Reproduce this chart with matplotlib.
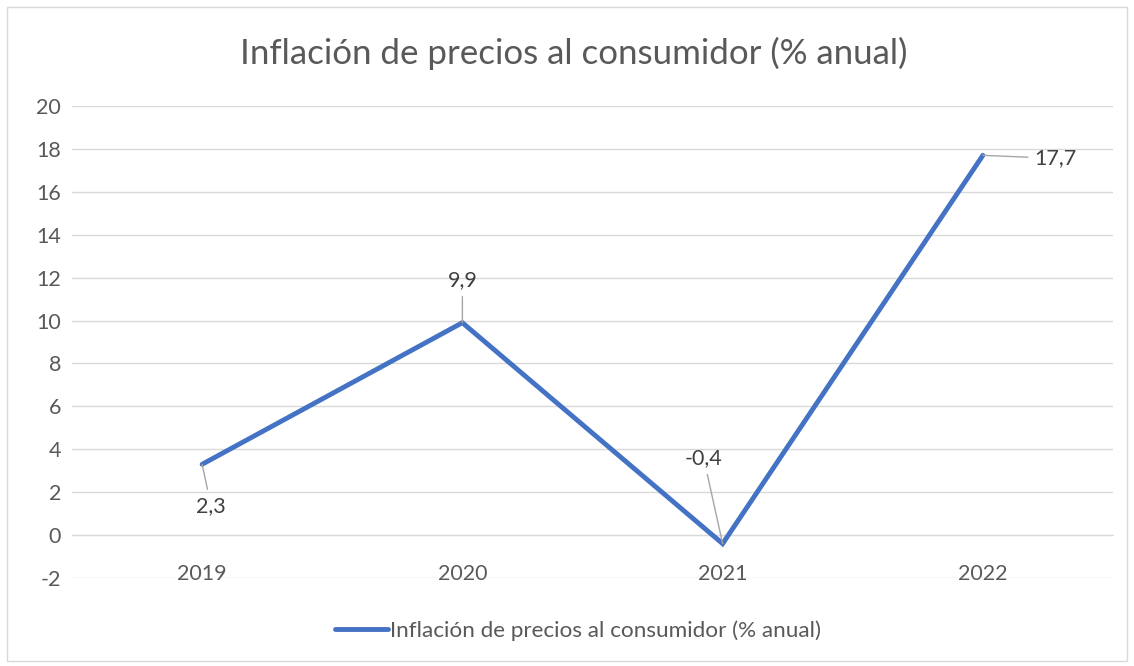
import matplotlib
matplotlib.use("Agg")
import matplotlib.pyplot as plt
from matplotlib.lines import Line2D
from matplotlib.patches import Rectangle

# ── Data ─────────────────────────────────────────────────────────────────────
years = ["2019", "2020", "2021", "2022"]
values = [3.3, 9.9, -0.4, 17.7]          # plotted positions
value_labels = ["2,3", "9,9", "-0,4", "17,7"]  # data labels as shown
series_name = "Inflación de precios al consumidor (% anual)"
title = "Inflación de precios al consumidor (% anual)"
y_ticks = list(range(-2, 21, 2))

# ── Style ────────────────────────────────────────────────────────────────────
W, H = 1134, 666
LINE = "#4472C4"
TEXT = "#595959"
GRID = "#D9D9D9"
LEADER = "#A6A6A6"
plt.rcParams["font.family"] = ["Lato", "DejaVu Sans"]

fig = plt.figure(figsize=(W / 100, H / 100), dpi=100, facecolor="white")

# outer chart border
fig.patches.append(Rectangle((7 / W, 5 / H), 1120 / W, 654 / H,
                             transform=fig.transFigure, fill=False,
                             edgecolor=GRID, lw=1.0))

left, right, top, bottom = 72, 1113, 106, 578
ax = fig.add_axes([left / W, 1 - bottom / H, (right - left) / W, (bottom - top) / H])
ax.set_xlim(-0.5, len(years) - 0.5)
ax.set_ylim(-2, 20)
ax.set_yticks(y_ticks)
ax.set_yticklabels([str(t) for t in y_ticks])
ax.set_xticks(range(len(years)))
ax.set_xticklabels(years)
ax.grid(axis="y", color=GRID, lw=1.0)
ax.set_axisbelow(True)
for s in ("top", "right", "left"):
    ax.spines[s].set_visible(False)
ax.spines["bottom"].set_position(("data", 0))
ax.spines["bottom"].set_color(GRID)
ax.tick_params(axis="both", length=0, colors=TEXT, labelsize=15.5)
ax.tick_params(axis="x", pad=21)
ax.tick_params(axis="y", pad=8)

x = list(range(len(years)))
ax.plot(x, values, color=LINE, lw=3.5, solid_joinstyle="miter",
        solid_capstyle="round", zorder=3)

# data labels with leader lines (offsets in pixels)
offsets = [(9, -42), (0, 43), (-19, 86), (73, -3)]
for xi, v, lab, off in zip(x, values, value_labels, offsets):
    ax.annotate(lab, xy=(xi, v), xytext=off, textcoords="offset pixels",
                ha="center", va="center", color="#404040", fontsize=15.5,
                arrowprops=dict(arrowstyle="-", color=LEADER, lw=1.0,
                                shrinkA=3, shrinkB=0), zorder=4)

fig.text(574 / W, 1 - 53 / H, title, ha="center", va="center",
         fontsize=25.1, color=TEXT)

handle = Line2D([], [], color=LINE, lw=3.5, solid_capstyle="round")
fig.legend([handle], [series_name], loc="center",
           bbox_to_anchor=(578 / W, 1 - 631 / H), frameon=False,
           fontsize=16.2, labelcolor=TEXT, handlelength=2.35, handletextpad=0.1)

fig.savefig("out.png", dpi=100, facecolor="white")
